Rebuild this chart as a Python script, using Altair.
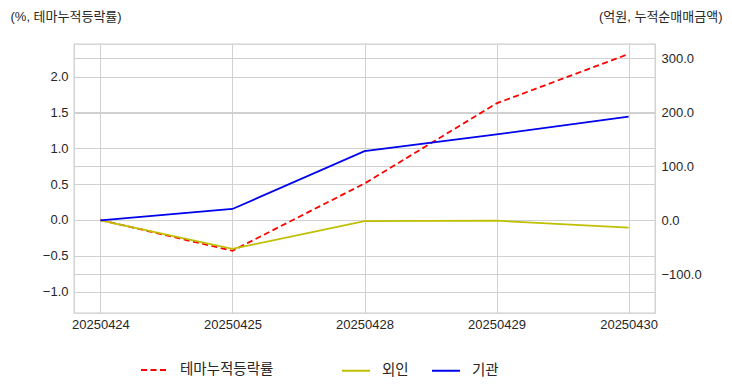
import altair as alt
import pandas as pd

dates = ["20250424", "20250425", "20250428", "20250429", "20250430"]
theme = [0.0, -0.43, 0.51, 1.63, 2.32]
foreign = [0.0, -53.0, -1.5, -0.8, -13.5]
inst = [0.0, 21.0, 128.0, 159.0, 192.0]

left_ticks = [-1.0, -0.5, 0.0, 0.5, 1.0, 1.5, 2.0]
right_ticks = [-100, 0, 100, 200, 300]

left_name = "테마누적등락률"
flow_names = ["외인", "기관"]

df_theme = pd.DataFrame({"date": dates, "value": theme, "series": left_name})
df_flow = pd.concat([
    pd.DataFrame({"date": dates, "value": foreign, "series": flow_names[0]}),
    pd.DataFrame({"date": dates, "value": inst, "series": flow_names[1]}),
])

FONT = "Liberation Sans, Noto Sans CJK KR, sans-serif"
LABEL_COLOR = "#262626"

x_enc = alt.X(
    "date:N",
    sort=dates,
    scale=alt.Scale(type="point", padding=0.2),
    axis=alt.Axis(title=None, labelAngle=0, grid=True, ticks=False, domain=False,
                  labelPadding=5, labelFontSize=13),
)

left = alt.Chart(df_theme).mark_line(strokeWidth=1.8, strokeDash=[6, 3.5]).encode(
    x=x_enc,
    y=alt.Y(
        "value:Q",
        scale=alt.Scale(domain=[-1.30, 2.46], nice=False, zero=False),
        axis=alt.Axis(
            orient="left", values=left_ticks, format=".1f", grid=True, ticks=False,
            domain=False, labelPadding=6, labelFontSize=13,
            title="(%, 테마누적등락률)", titleAngle=0, titleAlign="left",
            titleBaseline="middle", titleX=-64, titleY=-28, titleFontSize=13,
            titleFontWeight="normal",
        ),
    ),
    color=alt.Color(
        "series:N",
        scale=alt.Scale(domain=[left_name], range=["#ff0000"]),
        legend=alt.Legend(
            orient="none", legendX=66, legendY=311.5, title=None, direction="horizontal",
            symbolType="stroke", symbolDash=[6, 3.5], symbolSize=729, symbolStrokeWidth=2,
            labelFontSize=14.5, labelOffset=11, labelColor=LABEL_COLOR,
        ),
    ),
)

right = alt.Chart(df_flow).mark_line(strokeWidth=1.8).encode(
    x=x_enc,
    y=alt.Y(
        "value:Q",
        scale=alt.Scale(domain=[-171.7, 326.5], nice=False, zero=False),
        axis=alt.Axis(
            orient="right", values=right_ticks, format=".1f", grid=True, ticks=False,
            domain=False, labelPadding=6, labelFontSize=13,
            title="(억원, 누적순매매금액)", titleAngle=0, titleAlign="right",
            titleBaseline="middle", titleX=67, titleY=-28, titleFontSize=13,
            titleFontWeight="normal",
        ),
    ),
    color=alt.Color(
        "series:N",
        sort=flow_names,
        scale=alt.Scale(domain=flow_names, range=["#bfbf00", "#0000ee"]),
        legend=alt.Legend(
            orient="none", legendX=267, legendY=311.5, title=None, direction="horizontal",
            symbolType="stroke", symbolSize=784, symbolStrokeWidth=2,
            labelFontSize=14.5, labelOffset=11, columnPadding=19, labelColor=LABEL_COLOR,
        ),
    ),
)

chart = (
    alt.layer(left, right)
    .resolve_scale(y="independent", color="independent")
    .properties(
        width=581, height=269,
        autosize=alt.AutoSizeParams(type="none"),
        padding={"left": 66, "top": 36, "right": 67, "bottom": 68},
    )
    .configure_view(stroke="#cccccc", strokeWidth=1.3)
    .configure_axis(
        gridColor="#d0d0d0", gridWidth=1, labelFont=FONT, titleFont=FONT,
        labelColor=LABEL_COLOR, titleColor=LABEL_COLOR,
    )
    .configure_legend(labelFont=FONT, padding=0)
)

chart.save("out.html", embed_options={"renderer": "svg", "actions": False})
